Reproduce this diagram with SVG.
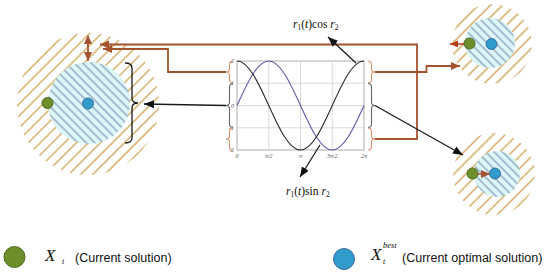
<svg xmlns="http://www.w3.org/2000/svg" width="550" height="272" viewBox="0 0 550 272">
<style>
.brown{stroke:#a4532e;stroke-width:1.8;fill:none}
.blk{stroke:#1a1a1a;stroke-width:1.3;fill:none}
.grid{stroke:#c8c8c8;stroke-width:0.7;fill:none}
.braceO{stroke:#d9906c;stroke-width:1.1;fill:none}
.braceG{stroke:#666;stroke-width:1.1;fill:none}
.ax{font-family:"Liberation Serif",serif;font-style:italic;font-size:6px;fill:#555}
.math{font-family:"Liberation Serif",serif;font-size:11.5px;fill:#111}
.leg{font-family:"Liberation Sans",Arial,sans-serif;font-size:12.5px;fill:#111}
.green{fill:#6c8f2c;stroke:#4d6a1c;stroke-width:1}
.blue{fill:#2f9ccb;stroke:#3d6c9c;stroke-width:1}
</style>
<defs>
<pattern id="outerH" patternUnits="userSpaceOnUse" width="8.5" height="8.5" patternTransform="rotate(45)">
<rect width="8.5" height="8.5" fill="#ffffff"/>
<line x1="2" y1="0" x2="2" y2="8.5" stroke="#d6b26c" stroke-width="1.6"/>
</pattern>
<pattern id="innerH" patternUnits="userSpaceOnUse" width="6" height="6" patternTransform="rotate(-45)">
<rect width="6" height="6" fill="#dbf7f8"/>
<line x1="2" y1="0" x2="2" y2="6" stroke="#8496b4" stroke-width="1.2"/>
</pattern>
<marker id="arB" markerUnits="userSpaceOnUse" markerWidth="10" markerHeight="10" refX="9" refY="5" orient="auto">
<path d="M0,1 L9,5 L0,9 z" fill="#a4532e"/>
</marker>
<marker id="arBs" markerUnits="userSpaceOnUse" markerWidth="10" markerHeight="10" refX="1" refY="5" orient="auto">
<path d="M9,1 L0,5 L9,9 z" fill="#a4532e"/>
</marker>
<marker id="arK" markerUnits="userSpaceOnUse" markerWidth="11" markerHeight="10" refX="10" refY="5" orient="auto">
<path d="M0,1 L10,5 L0,9 z" fill="#111"/>
</marker>
<marker id="arR" markerUnits="userSpaceOnUse" markerWidth="9" markerHeight="8" refX="8" refY="4" orient="auto">
<path d="M0,0.5 L8,4 L0,7.5 z" fill="#b83a1c"/>
</marker>
</defs>

<g id="circle-left">
<circle cx="88" cy="104" r="71" fill="url(#outerH)"/>
<circle cx="89" cy="103" r="41" fill="url(#innerH)"/>
<circle class="green" cx="47.5" cy="103" r="5.5"/>
<circle class="blue" cx="88" cy="103.5" r="5.5"/>
<path class="blk" d="M125,63 Q132,63 132,68 L132,98 Q132,103 138,103 Q132,103 132,108 L132,138 Q132,143 125,143"/>
</g>

<g id="circle-right-top">
<circle cx="492" cy="44" r="40" fill="url(#outerH)"/>
<circle cx="490" cy="43" r="25" fill="url(#innerH)"/>
<circle class="green" cx="469.5" cy="43.5" r="5.5"/>
<circle class="blue" cx="491.5" cy="44" r="5.5"/>
</g>

<g id="circle-right-bottom">
<circle cx="494" cy="174" r="41" fill="url(#outerH)"/>
<circle cx="497" cy="174" r="23" fill="url(#innerH)"/>
<circle class="blue" cx="495" cy="173.5" r="5.5"/>
<circle class="green" cx="472.5" cy="173.5" r="5.5"/>
</g>

<g id="chart">
<rect x="237" y="61" width="127" height="89" fill="#fff" stroke="#999" stroke-width="0.8"/>
<path class="grid" d="M268.75,61 V150 M300.5,61 V150 M332.25,61 V150 M237,83.25 H364 M237,105.5 H364 M237,127.75 H364"/>
<path d="M237,105.5 C247.35,82.7 257.26,61 268.75,61 C280.24,61 290.15,82.7 300.5,105.5 C310.85,128.3 320.76,150 332.25,150 C343.74,150 353.65,128.3 364,105.5" fill="none" stroke="#5a5aa6" stroke-width="1.1"/>
<path d="M237,61 C248.49,61 258.4,82.7 268.75,105.5 C279.1,128.3 289.01,150 300.5,150 C311.99,150 321.9,128.3 332.25,105.5 C342.6,82.7 352.51,61 364,61" fill="none" stroke="#2a2a2a" stroke-width="1.1"/>
<text class="ax" x="234" y="63" text-anchor="end">2</text>
<text class="ax" x="234" y="85" text-anchor="end">1</text>
<text class="ax" x="234" y="107.5" text-anchor="end">0</text>
<text class="ax" x="234" y="130" text-anchor="end">-1</text>
<text class="ax" x="234" y="152" text-anchor="end">-2</text>
<text class="ax" x="237" y="158" text-anchor="middle">0</text>
<text class="ax" x="268.75" y="158" text-anchor="middle">π/2</text>
<text class="ax" x="300.5" y="158" text-anchor="middle">π</text>
<text class="ax" x="332.25" y="158" text-anchor="middle">3π/2</text>
<text class="ax" x="364" y="158" text-anchor="middle">2π</text>
<path class="braceO" d="M233,61 Q229.5,61 229.5,64.5 L229.5,69 Q229.5,72 226,72 Q229.5,72 229.5,75 L229.5,79.5 Q229.5,83 233,83"/>
<path class="braceG" d="M233,83.5 Q229.5,83.5 229.5,87 L229.5,102 Q229.5,105.5 226,105.5 Q229.5,105.5 229.5,109 L229.5,124 Q229.5,127.5 233,127.5"/>
<path class="braceO" d="M233,128 Q229.5,128 229.5,131.5 L229.5,136 Q229.5,139 226,139 Q229.5,139 229.5,142 L229.5,146.5 Q229.5,150 233,150"/>
<path class="braceO" d="M368,61 Q371.5,61 371.5,64.5 L371.5,69 Q371.5,72 375,72 Q371.5,72 371.5,75 L371.5,79.5 Q371.5,83 368,83"/>
<path class="braceG" d="M368,83.5 Q371.5,83.5 371.5,87 L371.5,102 Q371.5,105.5 375,105.5 Q371.5,105.5 371.5,109 L371.5,124 Q371.5,127.5 368,127.5"/>
<path class="braceO" d="M368,128 Q371.5,128 371.5,131.5 L371.5,136 Q371.5,139 375,139 Q371.5,139 371.5,142 L371.5,146.5 Q371.5,150 368,150"/>
</g>

<g id="labels">
<text class="math" x="293" y="28"><tspan font-style="italic">r</tspan><tspan font-size="7.5" dy="2">1</tspan><tspan dy="-2">(</tspan><tspan font-style="italic">t</tspan><tspan>)cos </tspan><tspan font-style="italic">r</tspan><tspan font-size="7.5" dy="2">2</tspan></text>
<text class="math" x="286" y="195"><tspan font-style="italic">r</tspan><tspan font-size="7.5" dy="2">1</tspan><tspan dy="-2">(</tspan><tspan font-style="italic">t</tspan><tspan>)sin </tspan><tspan font-style="italic">r</tspan><tspan font-size="7.5" dy="2">2</tspan></text>
</g>

<g id="connectors">
<polyline class="brown" points="375,72 426.5,72 426.5,66 460,66" marker-end="url(#arB)"/>
<polyline class="brown" points="375,139 417,139 417,44.5 100,44.5" marker-end="url(#arB)"/>
<polyline class="brown" points="226,72 168,72 168,49 103,49" marker-end="url(#arB)"/>
<line class="brown" x1="88" y1="36" x2="88" y2="61" marker-start="url(#arBs)" marker-end="url(#arB)"/>
<line class="blk" x1="226" y1="105.5" x2="144" y2="104" marker-end="url(#arK)"/>
<line class="blk" x1="375" y1="105.5" x2="463" y2="155" marker-end="url(#arK)"/>
<line class="blk" x1="356" y1="63" x2="328" y2="37" marker-end="url(#arK)"/>
<line class="blk" x1="320" y1="145" x2="300" y2="177" marker-end="url(#arK)"/>
<line x1="464" y1="44" x2="450" y2="44" stroke="#b83a1c" stroke-width="1.5" marker-end="url(#arR)"/>
<line x1="477" y1="174" x2="490" y2="174" stroke="#a4532e" stroke-width="1.5" marker-end="url(#arB)"/>
</g>

<g id="legend">
<circle class="green" cx="14.5" cy="257" r="10.5"/>
<text x="45" y="261" font-family="Liberation Serif,serif" font-style="italic" font-size="17" fill="#111">X</text>
<text x="62" y="264" font-family="Liberation Serif,serif" font-style="italic" font-size="8" fill="#111">t</text>
<text class="leg" x="75" y="262">(Current solution)</text>
<circle class="blue" cx="344" cy="259" r="10.5"/>
<text x="371" y="260" font-family="Liberation Serif,serif" font-style="italic" font-size="17" fill="#111">X</text>
<text x="383" y="264" font-family="Liberation Serif,serif" font-style="italic" font-size="8" fill="#111">t</text>
<text x="383" y="248" font-family="Liberation Serif,serif" font-style="italic" font-size="8.5" fill="#111">best</text>
<text class="leg" x="402" y="262">(Current optimal solution)</text>
</g>
</svg>
